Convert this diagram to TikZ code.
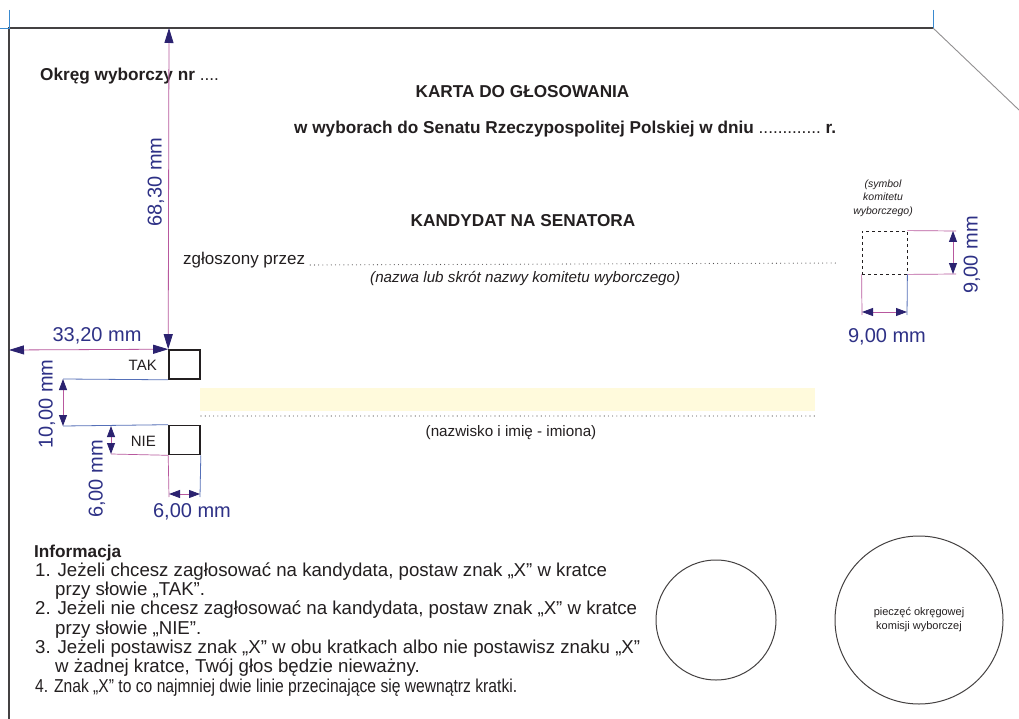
\documentclass[tikz,border=0pt]{standalone}
\usepackage{fontspec}
\setmainfont{Liberation Sans}
\usetikzlibrary{arrows.meta,calc}
\definecolor{ink}{HTML}{231F20}
\definecolor{dimline}{HTML}{B8589E}
\definecolor{dimtip}{HTML}{2B2270}
\definecolor{dimtext}{HTML}{2E3186}
\definecolor{extblue}{HTML}{5570B8}
\definecolor{frameblue}{HTML}{3A8AD0}
\definecolor{bandfill}{HTML}{FFFADC}
\tikzset{
  bigtip/.tip={Triangle[length=15pt,width=9pt,color=dimtip]},
  smalltip/.tip={Triangle[length=11pt,width=8pt,color=dimtip]},
  dimbig/.style={draw=dimline, line width=0.8pt, bigtip-bigtip},
  dimsmall/.style={draw=dimline, line width=0.8pt, smalltip-smalltip},
  extpink/.style={draw=dimline, line width=0.7pt},
  extblue/.style={draw=extblue, line width=0.8pt},
  txt/.style={inner sep=0pt, text=ink, font=\fontsize{17}{20}\selectfont},
  btxt/.style={txt, font=\fontsize{17.2}{20}\selectfont\bfseries},
  infotxt/.style={txt, font=\fontsize{18.65}{20}\selectfont},
  dimlabel/.style={inner sep=0pt, text=dimtext, font=\fontsize{20}{22}\selectfont},
  votebox/.style={draw=ink, line width=1.6pt, minimum width=31pt, minimum height=29pt, inner sep=0pt},
  dotline/.style={draw=ink!80, line width=1.1pt, line cap=round, dash pattern=on 0pt off 4.2pt},
  stamp/.style={draw=ink!85, line width=1pt, circle, inner sep=0pt},
}
\begin{document}
\begin{tikzpicture}[x=1pt,y=-1pt]
\useasboundingbox (0,0) rectangle (1019,719);
\fill[white] (0,0) rectangle (1019,719);

% frame
\coordinate (fTL) at (9,28);
\coordinate (fBL) at (9,719);
\coordinate (fTR) at (933,28);
\coordinate (fDiag) at (1019,110);
\coordinate (fTickA) at (9,10);
\coordinate (fTickL) at (0,28);
\coordinate (fTickB) at (933,10);
\draw[ink!85, line width=1.1pt] (fBL) -- (fTL) -- (fTR);
\draw[ink!50, line width=0.9pt] (fTR) -- (fDiag);
\draw[frameblue, line width=0.9pt] (fTickA) -- (fTL) -- (fTickL);
\draw[frameblue, line width=0.9pt] (fTickB) -- (fTR);

% header texts
\node[btxt, anchor=base west] (okreg) at (40,81) {Okręg wyborczy nr \mdseries ....};
\node[btxt, anchor=base] (karta) at (522.5,98) {KARTA DO GŁOSOWANIA};
\node[btxt, anchor=base west] (wybory) at (294,134) {w wyborach do Senatu Rzeczypospolitej Polskiej w dniu \mdseries.............\bfseries\ r.};
\node[btxt, anchor=base] (kandydat) at (523,226) {KANDYDAT NA SENATORA};
\node[txt, anchor=base west] (zglos) at (183,264) {zgłoszony przez};
\coordinate (zglosend) at (838,263);
\draw[dotline] ([xshift=5pt,yshift=-1pt]zglos.base east) -- (zglosend);
\node[txt, anchor=base west, font=\fontsize{15.2}{18}\selectfont\itshape] (nazwa) at (370,282) {(nazwa lub skrót nazwy komitetu wyborczego)};

% symbol box
\node[txt, align=center, font=\fontsize{10.5}{13.5}\selectfont\itshape] (symtxt) at (883,198) {(symbol\\komitetu\\wyborczego)};
\node[draw=ink, dashed, line width=0.8pt, minimum width=45pt, minimum height=43pt, inner sep=0pt] (sym) at (884.5,252.5) {};
\coordinate (symR1) at (956,231);
\coordinate (symR2) at (956,274);
\coordinate (symD1) at (862,315);
\coordinate (symD2) at (907,315);
\draw[extpink] (sym.north east) -- (symR1);
\draw[extpink] (sym.south east) -- (symR2);
\draw[extpink] (sym.south west) -- (symD1);
\draw[extblue] (sym.south east) -- (symD2);
\draw[dimsmall] ($(symR1)+(-3,0)$) -- ($(symR2)+(-3,0)$);
\draw[dimsmall] ($(symD1)+(0,-3)$) -- ($(symD2)+(0,-3)$);
\node[dimlabel, rotate=90] (symv) at (972,255) {9,00 mm};
\node[dimlabel] (symh) at (887,337) {9,00 mm};

% vote boxes
\node[votebox] (tak) at (184.5,364.5) {};
\node[votebox] (nie) at (184.5,440) {};
\node[txt, anchor=base east, font=\fontsize{15}{18}\selectfont] (taklbl) at (157,370) {TAK};
\node[txt, anchor=base east, font=\fontsize{15}{18}\selectfont] (nielbl) at (156,446) {NIE};

% candidate band
\fill[bandfill] (200,388) rectangle (815,411);
\coordinate (bandL) at (201,416);
\coordinate (bandR) at (815,416);
\draw[dotline] (bandL) -- (bandR);
\node[txt, anchor=base, font=\fontsize{15.2}{18}\selectfont] (nazwisko) at (511,436) {(nazwisko i imię - imiona)};

% dimensions around vote boxes
\coordinate (topref) at (169,28);
\coordinate (leftref) at (9,350);
\draw[dimbig] (topref) -- (tak.north west);
\draw[dimbig] (leftref) -- (tak.north west);
\node[dimlabel, rotate=90] (d6830) at (156,182) {68,30 mm};
\node[dimlabel] (d3320) at (97,336) {33,20 mm};

\coordinate (e1) at (63,379);
\coordinate (e2) at (63,426);
\coordinate (e3) at (111,454);
\draw[extblue] (tak.south west) -- (e1);
\draw[extblue] (nie.north west) -- (e2);
\draw[extpink] (nie.south west) -- (e3);
\draw[dimsmall] (e1) -- (e2);
\draw[dimsmall] ($(e2)+(48,0)$) -- (e3);
\node[dimlabel, rotate=90] (d1000) at (47,404) {10,00 mm};
\node[dimlabel, rotate=90] (d600v) at (97,479) {6,00 mm};

\coordinate (e4) at (169,497);
\coordinate (e5) at (200,497);
\draw[extpink] (nie.south west) -- (e4);
\draw[extblue] (nie.south east) -- (e5);
\draw[dimsmall] ($(e4)+(0,-3)$) -- ($(e5)+(0,-3)$);
\node[dimlabel] (d600h) at (192,512) {6,00 mm};

% information
\node[btxt, anchor=base west] (info0) at (34,557) {Informacja};
\node[infotxt, anchor=base west] (info1) at (35,576.3) {1. Jeżeli chcesz zagłosować na kandydata, postaw znak „X” w kratce};
\node[infotxt, anchor=base west] (info2) at (55,595.6) {przy słowie „TAK”.};
\node[infotxt, anchor=base west] (info3) at (35,614.9) {2. Jeżeli nie chcesz zagłosować na kandydata, postaw znak „X” w kratce};
\node[infotxt, anchor=base west] (info4) at (55,634.2) {przy słowie „NIE”.};
\node[infotxt, anchor=base west] (info5) at (35,653.5) {3. Jeżeli postawisz znak „X” w obu kratkach albo nie postawisz znaku „X”};
\node[infotxt, anchor=base west] (info6) at (55,672.8) {w żadnej kratce, Twój głos będzie nieważny.};
\node[infotxt, anchor=base west] (info7) at (35,692.1) {\scalebox{0.84}[1]{4. Znak „X” to co najmniej dwie linie przecinające się wewnątrz kratki.}};

% stamps
\node[stamp, minimum size=120pt] (stampA) at (716,620) {};
\node[stamp, minimum size=168pt, align=center, text=ink, font=\fontsize{11}{14}\selectfont] (stampB) at (919,620) {pieczęć okręgowej\\komisji wyborczej};
\end{tikzpicture}
\end{document}
